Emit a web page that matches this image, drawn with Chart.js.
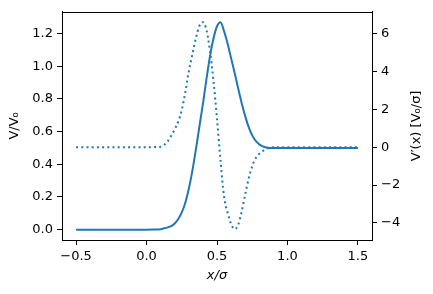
<!DOCTYPE html>
<html><head><meta charset="utf-8">
<script src="https://cdn.jsdelivr.net/npm/chart.js@4/dist/chart.umd.min.js"></script>
<style>html,body{margin:0;padding:0;background:#fff}</style>
</head><body>
<canvas id="c" width="433" height="294" style="display:block;width:433px;height:294px"></canvas>
<script>
const xs = [-0.5,-0.4,-0.3,-0.2,-0.1,0.0,0.05,0.1,0.125,0.15,0.175,0.2,0.225,0.25,0.275,0.3,0.325,0.35,0.375,0.4,0.425,0.45,0.475,0.5,0.525,0.55,0.575,0.6,0.625,0.65,0.675,0.7,0.725,0.75,0.775,0.8,0.825,0.85,0.875,0.9,1.0,1.1,1.2,1.3,1.4,1.5];
const potential = [0,0,0,0,0,0,0.001,0.003,0.008,0.014,0.022,0.038,0.065,0.105,0.165,0.25,0.36,0.49,0.63,0.77,0.92,1.06,1.17,1.245,1.27,1.215,1.14,1.05,0.96,0.865,0.775,0.695,0.627,0.577,0.543,0.522,0.51,0.503,0.5,0.5,0.5,0.5,0.5,0.5,0.5,0.5];
const derivative = [0,0,0,0,0,0,0.005,0.02,0.12,0.3,0.6,0.95,1.35,1.97,2.9,4.0,4.9,5.75,6.4,6.6,6.2,5.1,3.5,1.5,-0.7,-2.6,-3.45,-4.05,-4.32,-4.1,-3.4,-2.5,-1.65,-1.0,-0.58,-0.35,-0.2,-0.09,-0.02,0,0,0,0,0,0,0];
const xTicks = [-0.5,0,0.5,1,1.5];
const leftTicks = [0,0.2,0.4,0.6,0.8,1.0,1.2];
const rightTicks = [-4,-2,0,2,4,6];

const BLUE = '#1f77b4';
const FONT = {family:'DejaVu Sans', size:13};
const fmt = (v,d) => { const s = Math.abs(v).toFixed(d); return (v < 0 ? '\u2212' : '') + s; };

const framePlugin = {
  id:'frame',
  afterDraw(chart){
    const {ctx, chartArea:a} = chart;
    ctx.save();
    ctx.strokeStyle = '#000'; ctx.lineWidth = 1;
    ctx.strokeRect(Math.round(a.left)+0.5, Math.round(a.top)+0.5, Math.round(a.right-a.left), Math.round(a.bottom-a.top));
    ctx.translate(417, (a.top+a.bottom)/2);
    ctx.rotate(-Math.PI/2);
    ctx.fillStyle = '#000';
    ctx.font = '13px "DejaVu Sans"';
    ctx.textAlign = 'center'; ctx.textBaseline = 'middle';
    ctx.fillText("V\u2032(x) [V\u2080/\u03c3]", 0, 0);
    ctx.restore();
  }
};

const axisCommon = (ticksArr, dec) => ({
  type:'linear',
  afterBuildTicks: s => { s.ticks = ticksArr.map(v => ({value:v})); },
  ticks:{font:FONT, color:'#000', padding:4, callback: v => fmt(v,dec), autoSkip:false, maxRotation:0},
  grid:{drawOnChartArea:false, drawTicks:true, tickLength:5, tickColor:'#000', tickWidth:1},
  border:{display:true, color:'#000', width:1}
});

new Chart(document.getElementById('c'), {
  type:'line',
  data:{datasets:[
    {data: xs.map((x,i)=>({x, y: potential[i]})), yAxisID:'y', borderColor:BLUE, borderWidth:2, pointRadius:0, cubicInterpolationMode:'monotone', fill:false},
    {data: xs.map((x,i)=>({x, y: derivative[i]})), yAxisID:'y2', borderColor:BLUE, borderWidth:2, borderDash:[2,3.2], pointRadius:0, cubicInterpolationMode:'monotone', fill:false}
  ]},
  options:{
    responsive:false, animation:false, devicePixelRatio:1,
    layout:{padding:{top:9, left:0, right:0, bottom:0}},
    plugins:{legend:{display:false}, tooltip:{enabled:false}},
    scales:{
      x: Object.assign(axisCommon(xTicks,1), {min:-0.6, max:1.6, position:'bottom',
        afterFit: s => { s.height = 54; },
        title:{display:true, text:'x/\u03c3', font:Object.assign({}, FONT, {style:'italic'}), color:'#000', padding:{top:11,bottom:11}}}),
      y: Object.assign(axisCommon(leftTicks,1), {min:-0.0635, max:1.3335, position:'left',
        afterFit: s => { s.width = 62; },
        title:{display:true, text:'V/V\u2080', font:FONT, color:'#000', padding:{top:7,bottom:7}}}),
      y2: Object.assign(axisCommon(rightTicks,0), {min:-4.9, max:7.15, position:'right',
        afterFit: s => { s.width = 61; }})
    }
  },
  plugins:[framePlugin]
});
</script>
</body></html>
